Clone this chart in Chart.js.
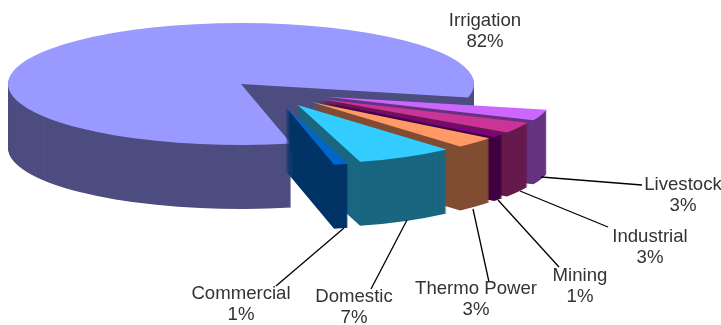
<!DOCTYPE html>
<html>
<head>
<meta charset="utf-8">
<title>Water use by sector</title>
<style>
  html, body { margin: 0; padding: 0; background: #fff; }
  canvas { display: block; }
</style>
<script src="https://cdn.jsdelivr.net/npm/chart.js@4/dist/chart.umd.min.js"></script>
</head>
<body>
<canvas id="waterChart" width="721" height="325"></canvas>
<script>
const categories = ['Irrigation', 'Livestock', 'Industrial', 'Mining', 'Thermo Power', 'Domestic', 'Commercial'];
const shares = [82, 3, 3, 1, 3, 7, 1];
const topColors = ['#9999ff', '#cc66ff', '#cc3399', '#800080', '#ff9966', '#33ccff', '#0066cc'];
const wallColors = ['#4d4d80', '#663380', '#661a4d', '#400040', '#804d33', '#1a6680', '#003366'];
const exploded = [0, 98, 98, 98, 98, 98, 98];

// label centre x, name baseline y, leader line start and end
const labelPlaces = [
  { x: 485, y: 26 },
  { x: 683, y: 190, line: [642, 185, 541, 177] },
  { x: 650, y: 242, line: [608, 227, 520, 191] },
  { x: 580, y: 281, line: [559, 267, 498, 200] },
  { x: 476, y: 294, line: [489, 282, 473, 209] },
  { x: 354, y: 302, line: [371, 289, 407, 220] },
  { x: 241, y: 299, line: [276, 286, 344, 228] }
];

const TILT = 0.262;   // squash of the pie's disc
const DEPTH = 64;     // height of the pie's walls
const PULLED_SCALE = 0.97;   // pulled-out slices sit a little further back

// Small slices are pushed out along a direction bent towards the viewer
function explodeAngle(arc) {
  let mid = ((arc.startAngle + arc.endAngle) / 2) * 180 / Math.PI;
  mid = ((mid % 360) + 360) % 360;
  return (19 + 0.58 * mid) * Math.PI / 180;
}

function drawSlice(ctx, arc, index, lift) {
  const angle = explodeAngle(arc);
  ctx.save();
  ctx.translate(arc.x, arc.y + lift);
  ctx.scale(1, TILT);
  ctx.translate(Math.cos(angle) * exploded[index], Math.sin(angle) * exploded[index]);
  if (exploded[index]) ctx.scale(PULLED_SCALE, PULLED_SCALE);
  ctx.translate(-arc.x, -arc.y);
  arc.draw(ctx);
  ctx.restore();
}

const pie3d = {
  id: 'pie3d',
  beforeDatasetsDraw(chart) {
    const ctx = chart.ctx;
    const arcs = chart.getDatasetMeta(0).data;
    arcs.forEach((arc, i) => {
      const topOptions = arc.options;
      arc.options = { ...topOptions, backgroundColor: wallColors[i] };
      for (let k = DEPTH; k > 0; k--) {
        drawSlice(ctx, arc, i, k);
      }
      arc.options = topOptions;
      drawSlice(ctx, arc, i, 0);
    });
    return false;
  },
  afterDraw(chart) {
    const ctx = chart.ctx;
    ctx.save();
    ctx.strokeStyle = '#000';
    ctx.lineWidth = 1.3;
    ctx.fillStyle = '#333';
    ctx.font = '18.6px "Liberation Sans", Arial, sans-serif';
    ctx.textAlign = 'center';
    categories.forEach((name, i) => {
      const place = labelPlaces[i];
      if (place.line) {
        ctx.beginPath();
        ctx.moveTo(place.line[0], place.line[1]);
        ctx.lineTo(place.line[2], place.line[3]);
        ctx.stroke();
      }
      ctx.fillText(name, place.x, place.y);
      ctx.fillText(shares[i] + '%', place.x, place.y + 21);
    });
    ctx.restore();
  }
};

new Chart(document.getElementById('waterChart'), {
  type: 'pie',
  data: {
    labels: categories,
    datasets: [{
      data: shares,
      backgroundColor: topColors,
      borderWidth: 0
    }]
  },
  options: {
    responsive: false,
    animation: false,
    radius: 233,
    rotation: 167.6,
    layout: { padding: { left: 0, top: 0, right: 239, bottom: 157 } },
    plugins: {
      legend: { display: false },
      tooltip: { enabled: false }
    }
  },
  plugins: [pie3d]
});
</script>
</body>
</html>
